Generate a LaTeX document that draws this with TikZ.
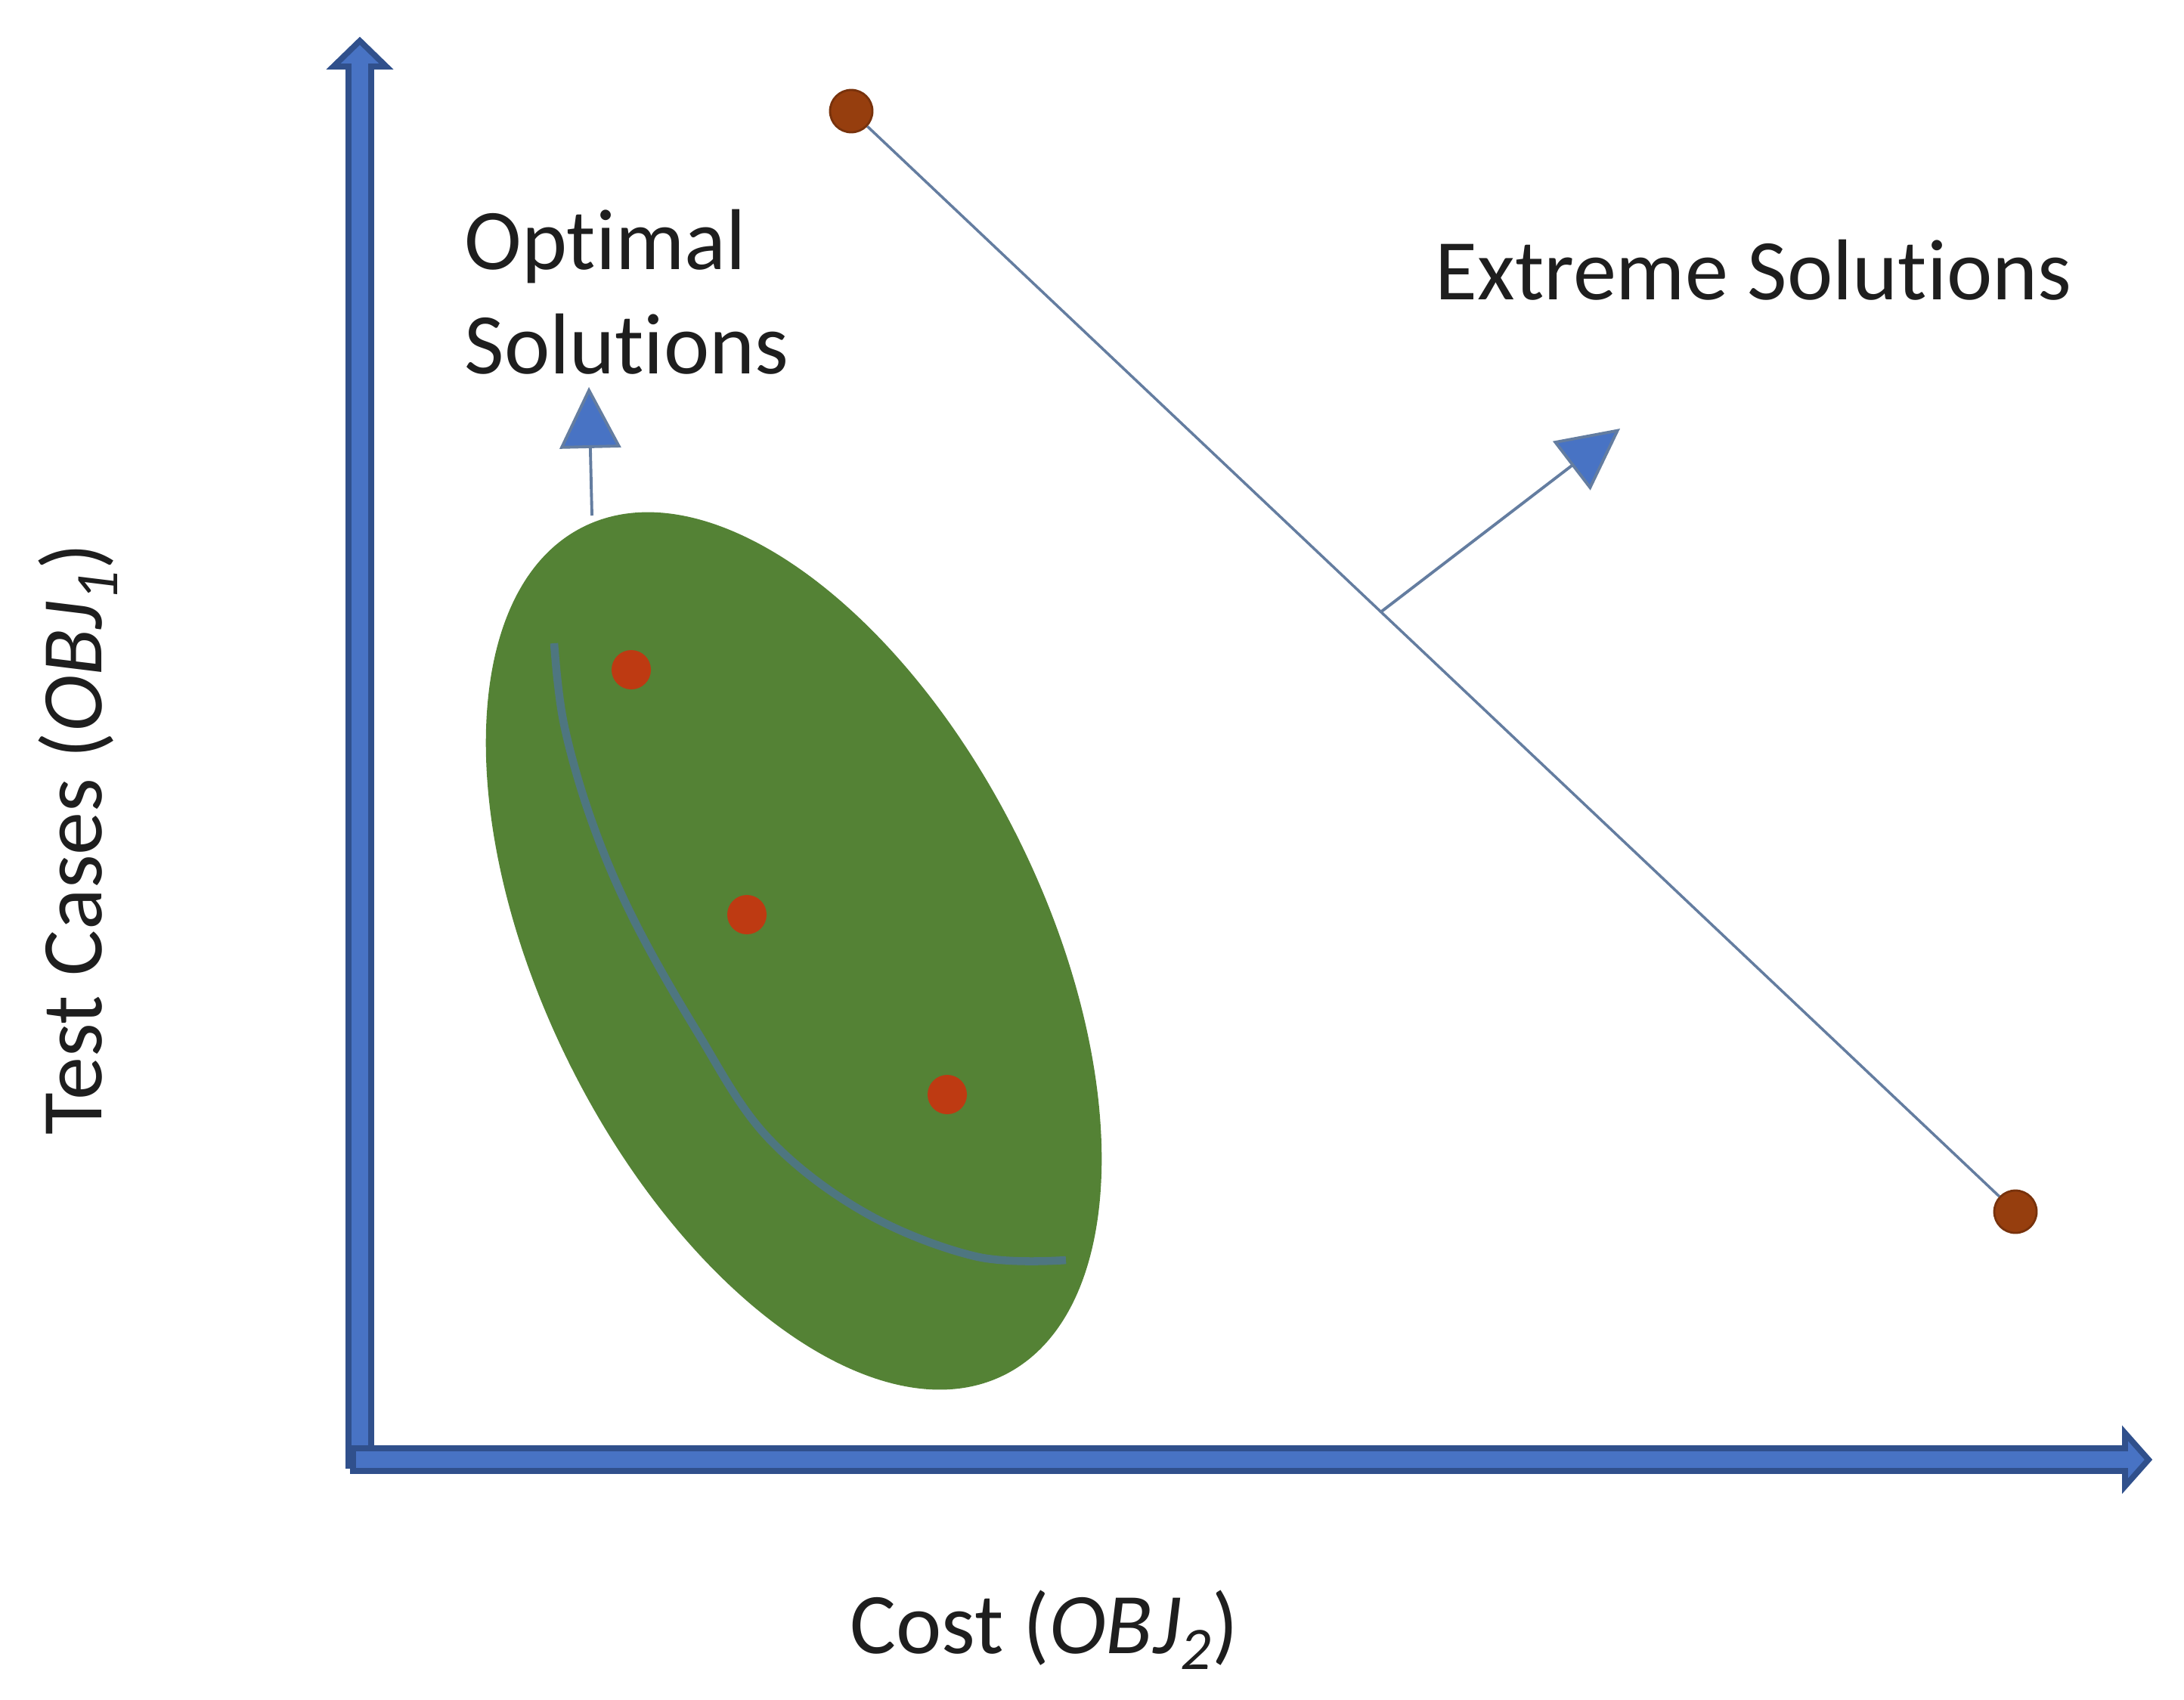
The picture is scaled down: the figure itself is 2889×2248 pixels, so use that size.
\documentclass[tikz,border=0pt]{standalone}
\usepackage{fontspec}
\setmainfont{Carlito}[Ligatures=NoCommon]
\usetikzlibrary{arrows.meta,calc}
\definecolor{axisfill}{RGB}{72,115,196}
\definecolor{axisedge}{RGB}{48,80,140}
\definecolor{blobgreen}{RGB}{84,130,53}
\definecolor{curvecol}{RGB}{78,118,128}
\definecolor{linecol}{RGB}{100,125,160}
\definecolor{innerdot}{RGB}{190,58,18}
\definecolor{enddotfill}{RGB}{150,62,14}
\definecolor{enddotedge}{RGB}{120,50,12}
\definecolor{txt}{RGB}{30,30,30}
\begin{document}
\begin{tikzpicture}[x=0.01cm,y=-0.01cm,
  axisarrow/.style={fill=axisfill,draw=axisedge,line width=2.2pt,line join=miter},
  enddot/.style={circle,fill=enddotfill,draw=enddotedge,line width=0.8pt,minimum size=0.56cm,inner sep=0pt},
  innerdotstyle/.style={circle,fill=innerdot,minimum size=0.52cm,inner sep=0pt},
  label/.style={font=\fontsize{32.5}{39}\selectfont,text=txt,inner sep=0pt},
  pointer/.style={draw=linecol,line width=1.1pt,-{Triangle[length=23pt,width=23pt,fill=axisfill]}},
]
\useasboundingbox (0,0) rectangle (2889,2248);

% axes (block arrows)
\path[axisarrow] (461,1939) -- (461,88) -- (441,88) -- (476,54) -- (511,88) -- (491,88) -- (491,1939) -- cycle;
\path[axisarrow] (467,1916) -- (2811,1916) -- (2811,1896) -- (2842,1931) -- (2811,1966) -- (2811,1946) -- (467,1946) -- cycle;

% green region
\fill[blobgreen,rotate around={-63.65:(1050,1258)}] (1050,1258) ellipse [x radius=6.26cm, y radius=3.32cm];

% front curve
\draw[curvecol,line width=3pt,line cap=butt] plot[smooth,tension=0.6] coordinates {(733,851) (746,958) (783,1087) (838,1216) (921,1363) (1013,1502) (1142,1603) (1290,1662) (1410,1667)};

% inner solutions
\node[innerdotstyle] (s1) at (835,886) {};
\node[innerdotstyle] (s2) at (988,1210) {};
\node[innerdotstyle] (s3) at (1253,1448) {};

% extreme solutions
\node[enddot] (p1) at (1126,147) {};
\node[enddot] (p2) at (2666,1603) {};
\draw[linecol,line width=1pt] (p1) -- (p2);
\coordinate (e0) at ($(p1)!0.455!(p2)$);
\coordinate (e1) at (2143,567);
\draw[pointer] (e0) -- (e1);

% optimal pointer
\coordinate (o0) at (783,682);
\coordinate (o1) at (779,512);
\draw[pointer] (o0) -- (o1);

% labels
\node[label,anchor=base west,align=left] (opt) at (614,494) {Optimal\\Solutions};
\node[label,anchor=base west] (ext) at (1898,396) {Extreme Solutions};
\node[label,anchor=base west] (xl) at (1124,2187) {Cost (\textit{OBJ\textsubscript{2}})};
\node[label,anchor=base west,rotate=90] (yl) at (134,1502) {Test Cases (\textit{OBJ\textsubscript{1}})};
\end{tikzpicture}
\end{document}
